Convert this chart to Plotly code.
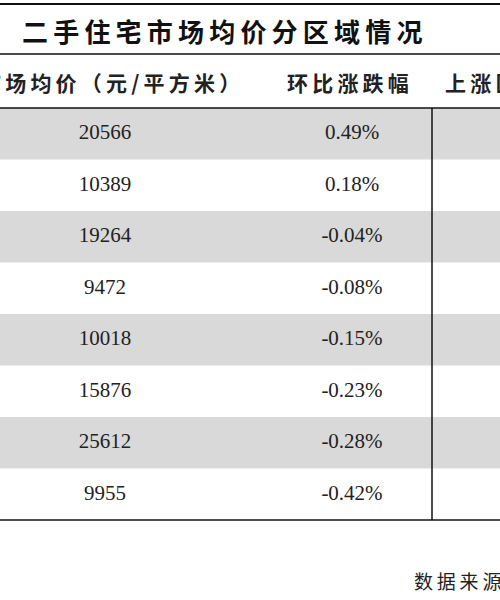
import plotly.graph_objects as go

prices = [20566, 10389, 19264, 9472, 10018, 15876, 25612, 9955]
changes = ["0.49%", "0.18%", "-0.04%", "-0.08%", "-0.15%", "-0.23%", "-0.28%", "-0.42%"]
title = "二手住宅市场均价分区域情况"
headers = ["市场均价（元/平方米）", "环比涨跌幅", "上涨区域"]
source = "数据来源"

top, row_h = 108, 51.5
ys = [top + row_h * (i + 0.5) for i in range(len(prices))]


def spaced(s):
    # the reference uses wide letter spacing
    return "\u2009".join(s)


fig = go.Figure()
serif = dict(family="Liberation Serif", size=21, color="#222")
fig.add_trace(go.Scatter(x=[105] * len(prices), y=ys, mode="text",
                         text=[str(p) for p in prices], textfont=serif,
                         hoverinfo="skip"))
fig.add_trace(go.Scatter(x=[352] * len(changes), y=ys, mode="text",
                         text=changes, textfont=serif, hoverinfo="skip"))

shapes = []
for i in range(len(prices)):
    if i % 2 == 0:
        shapes.append(dict(type="rect", x0=0, x1=500, y0=top + row_h * i,
                           y1=top + row_h * (i + 1), fillcolor="#d9d9d9",
                           line_width=0, layer="below"))
line = dict(color="#111", width=1.5)
for y in [4, 54, 108, 520]:
    shapes.append(dict(type="line", x0=0, x1=500, y0=y, y1=y,
                       line=dict(color="#111", width=2 if y == 4 else 1.5)))
shapes.append(dict(type="line", x0=432, x1=432, y0=108, y1=520, line=line))

hf = dict(family="Noto Sans CJK SC", size=21, color="#222")
annotations = [
    dict(x=424, y=30, text="<b>" + spaced(title) + "</b>", xanchor="right",
         font=dict(family="Noto Sans CJK SC", size=26, color="#111")),
    dict(x=242, y=82, text="<b>" + spaced(headers[0]) + "</b>", xanchor="right", font=hf),
    dict(x=348, y=82, text="<b>" + spaced(headers[1]) + "</b>", xanchor="center", font=hf),
    dict(x=443, y=82, text="<b>" + spaced(headers[2]) + "</b>", xanchor="left", font=hf),
    dict(x=412, y=580, text=spaced(source), xanchor="left",
         font=dict(family="Noto Sans CJK SC", size=19, color="#222")),
]
for a in annotations:
    a.update(xref="x", yref="y", showarrow=False, yanchor="middle")

fig.update_layout(
    width=500, height=600, margin=dict(l=0, r=0, t=0, b=0),
    paper_bgcolor="white", plot_bgcolor="white", showlegend=False,
    xaxis=dict(range=[0, 500], visible=False, fixedrange=True),
    yaxis=dict(range=[600, 0], visible=False, fixedrange=True),
    shapes=shapes, annotations=annotations,
)
fig.write_html("out.html", config={"displayModeBar": False},
               post_script="document.body.style.margin='0';")
